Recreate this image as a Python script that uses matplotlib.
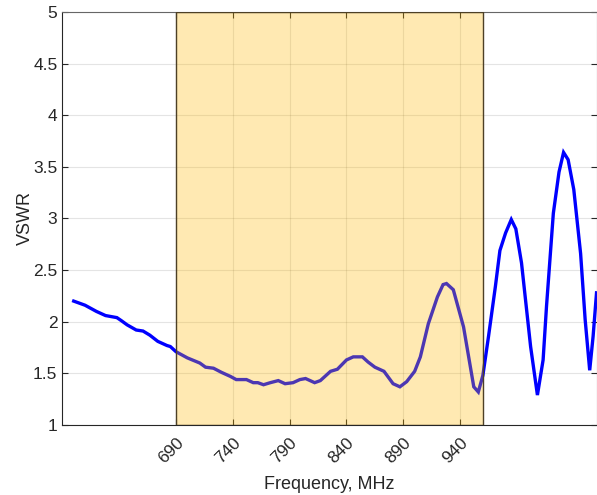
import matplotlib
matplotlib.use("Agg")
import matplotlib.pyplot as plt
from matplotlib.patches import Rectangle

plt.rcParams['font.family'] = ['Liberation Sans', 'DejaVu Sans']

freq = [600, 610, 620, 628, 638, 642, 647, 655, 661, 667, 674, 682, 685, 690,
        700, 711, 716, 723, 730, 738, 743, 752, 758, 762, 767, 773, 780, 786,
        793, 799, 804, 812, 817, 826, 832, 840, 846, 854, 859, 865, 873, 881,
        887, 893, 900, 905, 912, 920, 925, 928, 934, 943, 952, 956, 960, 965,
        971, 975, 980, 985, 989, 994, 1002, 1008, 1013, 1016, 1022, 1027, 1031,
        1035, 1040, 1046, 1050, 1054, 1057, 1060]
vswr = [2.20, 2.16, 2.10, 2.06, 2.04, 2.01, 1.97, 1.92, 1.91, 1.87, 1.81, 1.77,
        1.76, 1.71, 1.65, 1.60, 1.56, 1.55, 1.51, 1.47, 1.44, 1.44, 1.41, 1.41,
        1.39, 1.41, 1.43, 1.40, 1.41, 1.44, 1.45, 1.41, 1.43, 1.52, 1.54, 1.63,
        1.66, 1.66, 1.61, 1.56, 1.52, 1.40, 1.37, 1.42, 1.52, 1.66, 1.98, 2.24,
        2.36, 2.37, 2.31, 1.95, 1.37, 1.32, 1.48, 1.86, 2.34, 2.69, 2.86, 2.99,
        2.90, 2.57, 1.76, 1.29, 1.63, 2.15, 3.05, 3.45, 3.64, 3.57, 3.28, 2.66,
        2.02, 1.53, 1.86, 2.28]

xticks = [690, 740, 790, 840, 890, 940]
yticks = [1, 1.5, 2, 2.5, 3, 3.5, 4, 4.5, 5]
ytick_labels = ['1', '1.5', '2', '2.5', '3', '3.5', '4', '4.5', '5']
band = (690, 960)

fig = plt.figure(figsize=(5.97, 4.95), dpi=100)
ax = fig.add_axes([0.1044, 0.1414, 0.8948, 0.8344])

axc = (0.15, 0.15, 0.15)
ax.plot(freq, vswr, color=(0, 0, 1), lw=2.4, zorder=2, solid_joinstyle='miter')
ax.add_patch(Rectangle((band[0], 1), band[1] - band[0], 4,
                       facecolor=(1, 0.72, 0), alpha=0.3, edgecolor='none', zorder=3))
ax.add_patch(Rectangle((band[0], 1), band[1] - band[0], 4,
                       facecolor='none', edgecolor=(0.3, 0.25, 0.15), lw=1.0, zorder=4))

ax.set_xlim(590, 1060)
ax.set_ylim(1, 5)
ax.set_xticks(xticks)
ax.set_xticklabels([str(t) for t in xticks], rotation=45, ha='right', va='top',
                   rotation_mode='anchor')
ax.set_yticks(yticks)
ax.set_yticklabels(ytick_labels)
ax.grid(True, color=(0.15, 0.15, 0.15), alpha=0.12, lw=0.8, zorder=1)
ax.set_axisbelow(True)
ax.tick_params(direction='in', length=4, width=0.8, colors=axc, labelsize=12.5,
               top=True, right=True, labelcolor=axc)
ax.tick_params(axis='x', pad=7)
for s in ax.spines.values():
    s.set_color(axc)
    s.set_linewidth(0.8)
for s in ('right', 'top'):
    ax.spines[s].set_color((0.4, 0.4, 0.4))
ax.set_xlabel('Frequency, MHz', fontsize=13, color=axc, labelpad=7)
ax.set_ylabel('VSWR', fontsize=13, color=axc, labelpad=-0.5)

fig.savefig('out.png', dpi=100)
